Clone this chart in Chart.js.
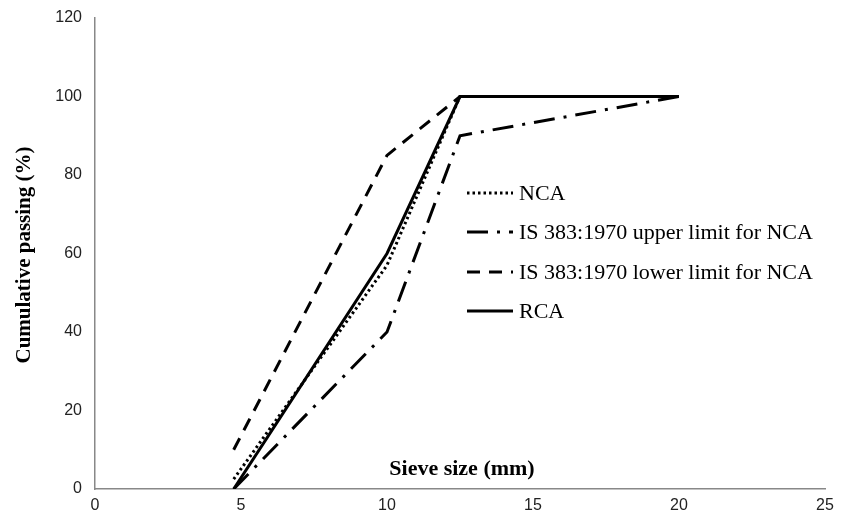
<!DOCTYPE html>
<html>
<head>
<meta charset="utf-8">
<script src="https://cdn.jsdelivr.net/npm/chart.js@4/dist/chart.umd.min.js"></script>
<style>
  html, body { margin: 0; padding: 0; background: #fff; }
  #wrap { width: 847px; height: 519px; }
</style>
</head>
<body>
<div id="wrap"><canvas id="myChart"></canvas></div>
<script>
// sieve sizes (mm) and cumulative passing (%)
const sieveSizes = [4.75, 10, 12.5, 20];
const ncaPassing = [2.5, 57, 100, 100];
const upperLimit = [0, 40, 90, 100];
const lowerLimit = [10, 85, 100, 100];
const rcaPassing = [0, 60, 100, 100];

const seriesLabels = ['NCA', 'IS 383:1970 upper limit for NCA', 'IS 383:1970 lower limit for NCA', 'RCA'];

const toPoints = vals => vals.map((v, i) => ({ x: sieveSizes[i], y: v }));

// draws axis titles and the legend inside the plot
const extras = {
    id: 'extras',
    afterDraw(chart) {
        const c = chart.ctx;
        c.save();
        c.fillStyle = '#000';
        c.textAlign = 'center';
        c.textBaseline = 'middle';
        c.font = 'bold 22px "Liberation Serif"';
        c.fillText('Sieve size (mm)', 462, 469);
        c.font = 'bold 21px "Liberation Serif"';
        c.translate(25, 255);
        c.rotate(-Math.PI / 2);
        c.fillText('Cumulative passing (%)', 0, 0);
        c.restore();

        c.save();
        c.font = '22px "Liberation Serif"';
        c.textBaseline = 'middle';
        c.fillStyle = '#000';
        const rows = [193, 232, 272, 311];
        chart.data.datasets.forEach((ds, i) => {
            const y = rows[i];
            c.beginPath();
            c.strokeStyle = ds.borderColor;
            c.lineWidth = ds.borderWidth;
            c.setLineDash(ds.borderDash || []);
            c.moveTo(467, y);
            c.lineTo(513, y);
            c.stroke();
            c.setLineDash([]);
            c.fillText(ds.label, 519, y + 1);
        });
        c.restore();
    }
};

const ctx = document.getElementById('myChart').getContext('2d');
const myChart = new Chart(ctx, {
    type: 'line',
    data: {
        datasets: [{
            label: seriesLabels[0],
            data: toPoints(ncaPassing),
            borderColor: '#000',
            borderWidth: 3,
            borderDash: [2.5, 3]
        }, {
            label: seriesLabels[1],
            data: toPoints(upperLimit),
            borderColor: '#000',
            borderWidth: 3,
            borderDash: [21, 9, 3, 9]
        }, {
            label: seriesLabels[2],
            data: toPoints(lowerLimit),
            borderColor: '#000',
            borderWidth: 3,
            borderDash: [13, 9]
        }, {
            label: seriesLabels[3],
            data: toPoints(rcaPassing),
            borderColor: '#000',
            borderWidth: 3
        }]
    },
    options: {
        responsive: true,
        maintainAspectRatio: false,
        animation: false,
        elements: { point: { radius: 0 }, line: { tension: 0 } },
        layout: { padding: { top: 18, right: 22, left: 0, bottom: 0 } },
        scales: {
            x: {
                type: 'linear',
                min: 0,
                max: 25,
                ticks: { stepSize: 5, color: '#222', font: { family: '"Liberation Sans"', size: 16 }, padding: 2 },
                grid: { display: false, drawTicks: true, tickLength: 5, tickColor: '#888' },
                border: { color: '#888', width: 1.5 },
                afterFit: s => { s.height = 30; }
            },
            y: {
                min: 0,
                max: 120,
                ticks: { stepSize: 20, color: '#222', font: { family: '"Liberation Sans"', size: 16 }, padding: 8 },
                grid: { display: false, drawTicks: true, tickLength: 5, tickColor: '#888' },
                border: { color: '#888', width: 1.5 },
                afterFit: s => { s.width = 95; }
            }
        },
        plugins: {
            legend: false,
            tooltip: { enabled: false }
        }
    },
    plugins: [extras]
});
</script>
</body>
</html>
